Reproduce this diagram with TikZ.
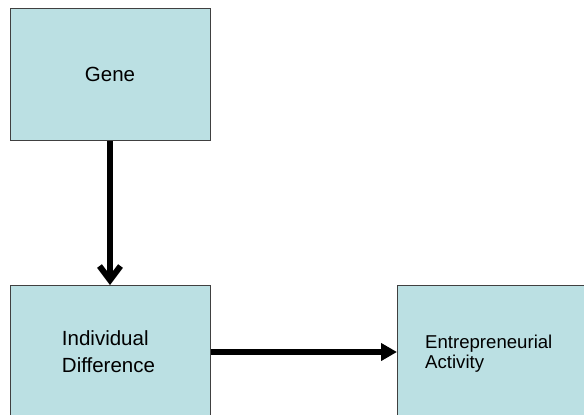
\documentclass[tikz,border=0pt]{standalone}
\usepackage{fontspec}
\setmainfont{Liberation Sans}
\usepackage{xcolor}
\usetikzlibrary{arrows.meta}
\definecolor{boxFillColor}{RGB}{187, 224, 227}
\definecolor{boxDrawColor}{RGB}{64, 64, 64}

\begin{document}
\begin{tikzpicture}[
		x=1pt, y=-1pt,
		% Define styles for nodes
		factorbox/.style={
				draw=boxDrawColor,
				fill=boxFillColor,
				rectangle,
				line width=1pt,
				anchor=north west,
				inner sep=0pt
			},
		boxtext/.style={
				inner sep=0pt,
				align=left
			},
		downarrow/.style={
				-{Straight Barb[length=14pt,width=21pt]},
				line width=6pt,
				draw=black
			},
		rightarrow/.style={
				-{Triangle[length=16pt,width=17pt]},
				line width=6pt,
				draw=black
			}
	]

	% Page area
	\clip (0,0) rectangle (584,415);

	% Boxes
	\node[factorbox, minimum width=200pt, minimum height=132.5pt,
		font=\fontsize{20}{24}\selectfont] (gene) at (9.5,7.5) {};
	\node[boxtext, font=\fontsize{20.5}{24}\selectfont] (genetext) at (gene.center) {Gene};

	\node[factorbox, minimum width=200pt, minimum height=160pt] (indiv) at (9.5,285) {};
	\node[boxtext, font=\fontsize{20.5}{27}\selectfont] (indivtext) at (108.5,352) {Individual\\Difference};

	\node[factorbox, minimum width=200pt, minimum height=160pt] (entre) at (397,285) {};
	\node[boxtext, anchor=west, font=\fontsize{18.6}{20}\selectfont] (entretext) at (425,354) {Entrepreneurial\\Activity};

	% Arrows
	\draw[downarrow] (gene.south) -- (indiv.north);
	\draw[rightarrow] (indivtext -| indiv.east) -- (indivtext -| entre.west);

\end{tikzpicture}
\end{document}
